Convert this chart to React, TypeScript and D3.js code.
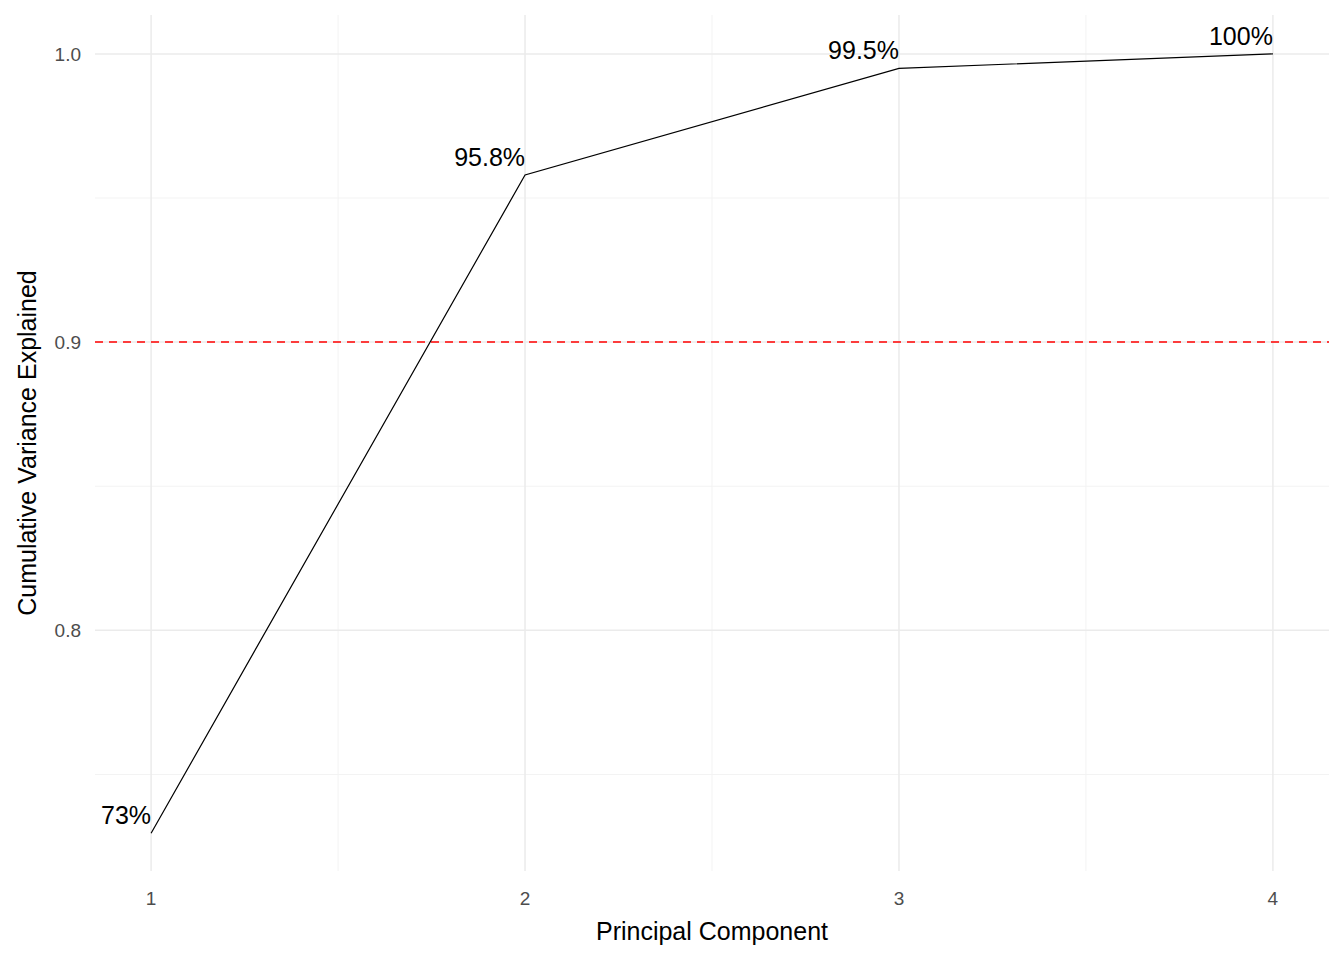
import * as d3 from "d3";

const components = [1, 2, 3, 4];
const cumVariance = [0.7296, 0.958, 0.995, 1.0];
const pointLabels = ["73%", "95.8%", "99.5%", "100%"];
const yTicks = [0.8, 0.9, 1.0];
const yMinor = [0.75, 0.85, 0.95];
const xMinor = [1.5, 2.5, 3.5];
const threshold = 0.9;

const W = 1344;
const H = 960;
const panel = { left: 95, right: 1329, top: 15, bottom: 871 };

export default function App() {
  const x = d3.scaleLinear().domain([0.85, 4.15]).range([panel.left, panel.right]);
  const y = d3.scaleLinear().domain([0.7165, 1.0135]).range([panel.bottom, panel.top]);
  const line = d3
    .line<number>()
    .x((_, i) => x(components[i]))
    .y((d) => y(d));
  const font = "Arial, 'Liberation Sans', sans-serif";

  return (
    <svg
      width={W}
      height={H}
      style={{ position: "absolute", left: 0, top: 0, background: "white" }}
      fontFamily={font}
    >
      {yMinor.map((v) => (
        <line key={"ym" + v} x1={panel.left} x2={panel.right} y1={y(v)} y2={y(v)} stroke="#f3f3f3" strokeWidth={1} />
      ))}
      {xMinor.map((v) => (
        <line key={"xm" + v} x1={x(v)} x2={x(v)} y1={panel.top} y2={panel.bottom} stroke="#f3f3f3" strokeWidth={1} />
      ))}
      {yTicks.map((v) => (
        <line key={"y" + v} x1={panel.left} x2={panel.right} y1={y(v)} y2={y(v)} stroke="#ebebeb" strokeWidth={1.5} />
      ))}
      {components.map((v) => (
        <line key={"x" + v} x1={x(v)} x2={x(v)} y1={panel.top} y2={panel.bottom} stroke="#ebebeb" strokeWidth={1.5} />
      ))}
      <line
        x1={panel.left}
        x2={panel.right}
        y1={y(threshold)}
        y2={y(threshold)}
        stroke="#ff0000"
        strokeWidth={1.5}
        strokeDasharray="8,6"
      />
      <path d={line(cumVariance) ?? ""} fill="none" stroke="black" strokeWidth={1.2} />
      {cumVariance.map((v, i) => (
        <text key={"l" + i} x={x(components[i])} y={y(v) - 9} textAnchor="end" fontSize={25} fill="black">
          {pointLabels[i]}
        </text>
      ))}
      {yTicks.map((v) => (
        <text key={"yt" + v} x={panel.left - 14} y={y(v)} dy="0.35em" textAnchor="end" fontSize={19} fill="#4d4d4d">
          {v.toFixed(1)}
        </text>
      ))}
      {components.map((v) => (
        <text key={"xt" + v} x={x(v)} y={905} textAnchor="middle" fontSize={19} fill="#4d4d4d">
          {v}
        </text>
      ))}
      <text x={(panel.left + panel.right) / 2} y={940} textAnchor="middle" fontSize={25} fill="black">
        Principal Component
      </text>
      <text
        transform={`translate(36,${(panel.top + panel.bottom) / 2}) rotate(-90)`}
        textAnchor="middle"
        fontSize={25}
        fill="black"
      >
        Cumulative Variance Explained
      </text>
    </svg>
  );
}
